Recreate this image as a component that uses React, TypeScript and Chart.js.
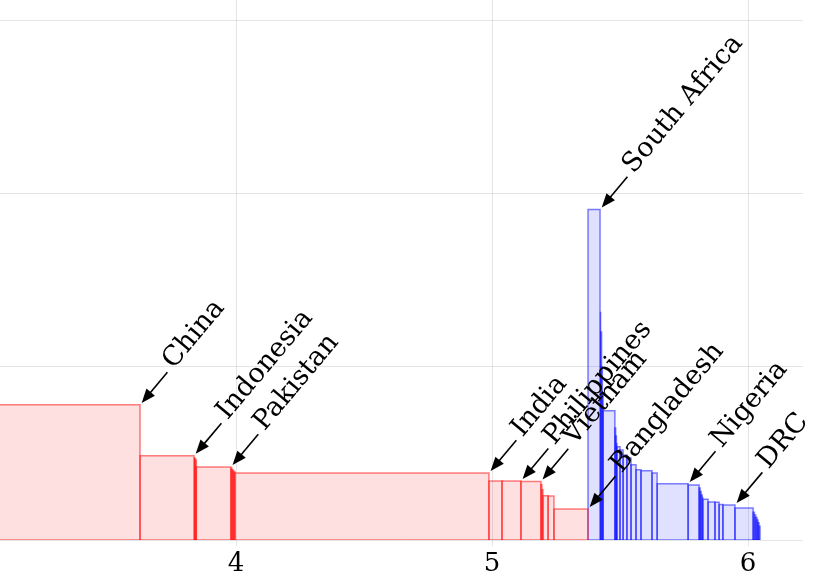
import React, { useEffect, useRef } from 'react';
import { Chart, registerables } from 'chart.js';

Chart.register(...registerables);

// cumulative population (billions) before the first visible red bar
const redStart = 2.362;
const redNames = ['China', 'Indonesia', '', '', '', 'Pakistan', '', '', '', '', 'India', '', 'Philippines', 'Vietnam', '', '', '', '', 'Bangladesh'];
const redPop = [1.263, 0.211, 0.003, 0.003, 0.003, 0.135, 0.004, 0.004, 0.004, 0.004, 0.992, 0.051, 0.074, 0.078, 0.004, 0.004, 0.020, 0.023, 0.133];
const redValue = [0.780, 0.486, 0.478, 0.470, 0.460, 0.422, 0.415, 0.405, 0.398, 0.392, 0.387, 0.341, 0.340, 0.338, 0.320, 0.290, 0.256, 0.254, 0.179];

const blueNames = ['South Africa', '', '', '', '', '', '', '', '', '', '', '', '', '', '', '', '', 'Nigeria', '', '', '', '', '', '', '', '', '', 'DRC', '', '', '', '', '', '', ''];
const bluePop = [0.047, 0.003, 0.003, 0.003, 0.003, 0.046, 0.003, 0.003, 0.002, 0.012, 0.012, 0.015, 0.016, 0.0195, 0.0195, 0.043, 0.020, 0.121, 0.043, 0.004, 0.004, 0.004, 0.003, 0.020, 0.027, 0.016, 0.015, 0.047, 0.071, 0.005, 0.005, 0.005, 0.004, 0.004, 0.004];
const blueValue = [1.908, 1.318, 1.200, 1.000, 0.850, 0.746, 0.647, 0.600, 0.560, 0.538, 0.520, 0.491, 0.474, 0.434, 0.405, 0.400, 0.387, 0.324, 0.318, 0.300, 0.280, 0.260, 0.250, 0.235, 0.220, 0.218, 0.205, 0.202, 0.185, 0.160, 0.145, 0.130, 0.115, 0.100, 0.080];

const xTicks = [4, 5, 6];
const yGrid = [0, 1, 2, 3];

const RED_LINE = 'rgba(255,0,0,0.5)';
const RED_FILL = 'rgba(255,0,0,0.12)';
const BLUE_LINE = 'rgba(0,0,255,0.5)';
const BLUE_FILL = 'rgba(0,0,255,0.12)';
const GRID = 'rgba(0,0,0,0.1)';
const FONT = 'DejaVu Serif';

function buildGroup(start: number, pops: number[], vals: number[], line: string, fill: string) {
  const sets: any[] = [];
  let cum = start;
  for (let i = 0; i < pops.length; i++) {
    const x0 = cum;
    const x1 = cum + pops[i];
    sets.push({
      type: 'line',
      data: [
        { x: x0, y: 0 },
        { x: x0, y: vals[i] },
        { x: x1, y: vals[i] },
        { x: x1, y: 0 },
      ],
      borderColor: line,
      backgroundColor: fill,
      borderWidth: 1.5,
      fill: 'origin',
      pointRadius: 0,
      tension: 0,
      borderJoinStyle: 'miter',
    });
    cum = x1;
  }
  sets.push({
    type: 'line',
    data: [
      { x: start, y: 0 },
      { x: cum, y: 0 },
    ],
    borderColor: line,
    borderWidth: 1.5,
    fill: false,
    pointRadius: 0,
  });
  return { sets, end: cum };
}

const annotatePlugin = {
  id: 'countryArrows',
  afterDatasetsDraw(chart: any) {
    const { ctx } = chart;
    const xs = chart.scales.x;
    const ys = chart.scales.y;
    const ang = (50 * Math.PI) / 180;
    const ux = Math.cos(ang);
    const uy = -Math.sin(ang);
    const vx = Math.sin(ang);
    const vy = Math.cos(ang);
    const blueStart = redStart + redPop.reduce((a, b) => a + b, 0);
    const groups: [number, string[], number[], number[]][] = [
      [redStart, redNames, redPop, redValue],
      [blueStart, blueNames, bluePop, blueValue],
    ];
    ctx.save();
    ctx.fillStyle = '#000';
    ctx.strokeStyle = '#000';
    ctx.lineWidth = 1.6;
    ctx.font = `27px "${FONT}"`;
    ctx.textAlign = 'left';
    ctx.textBaseline = 'alphabetic';
    const L = 40;
    const head = 14;
    const hw = 5.5;
    for (const [start, names, pops, vals] of groups) {
      let cum = start;
      for (let i = 0; i < pops.length; i++) {
        cum += pops[i];
        if (!names[i]) continue;
        const px = xs.getPixelForValue(cum);
        const py = ys.getPixelForValue(vals[i]);
        const tx = px + ux * 2.6;
        const ty = py + uy * 2.6;
        const ex = tx + ux * L;
        const ey = ty + uy * L;
        ctx.beginPath();
        ctx.moveTo(ex, ey);
        ctx.lineTo(tx + ux * (head - 2), ty + uy * (head - 2));
        ctx.stroke();
        const bx = tx + ux * head;
        const by = ty + uy * head;
        ctx.beginPath();
        ctx.moveTo(tx, ty);
        ctx.lineTo(bx + vx * hw, by + vy * hw);
        ctx.lineTo(bx - vx * hw, by - vy * hw);
        ctx.closePath();
        ctx.fill();
        ctx.save();
        ctx.translate(ex + ux * 6 + vx * 3, ey + uy * 6 + vy * 3);
        ctx.rotate(-ang);
        ctx.fillText(names[i], 0, 0);
        ctx.restore();
      }
    }
    ctx.restore();
  },
};

export default function App() {
  const ref = useRef<HTMLCanvasElement>(null);
  useEffect(() => {
    if (!ref.current) return;
    const red = buildGroup(redStart, redPop, redValue, RED_LINE, RED_FILL);
    const blue = buildGroup(red.end, bluePop, blueValue, BLUE_LINE, BLUE_FILL);
    const chart = new Chart(ref.current, {
      type: 'line',
      data: { datasets: [...red.sets, ...blue.sets] },
      options: {
        animation: false,
        responsive: false,
        devicePixelRatio: 1,
        layout: { padding: { left: 0, right: 12, top: 0, bottom: 0 } },
        plugins: { legend: { display: false }, tooltip: { enabled: false } },
        scales: {
          x: {
            type: 'linear',
            min: 3.0781,
            max: 6.2148,
            afterBuildTicks: (s: any) => {
              s.ticks = xTicks.map((v) => ({ value: v }));
            },
            afterFit: (s: any) => {
              s.height = 36;
            },
            ticks: {
              color: '#000',
              font: { family: FONT, size: 26 },
              padding: 3,
              maxRotation: 0,
              autoSkip: false,
            },
            grid: { color: GRID, drawTicks: true, tickLength: 6, tickColor: GRID },
            border: { display: false },
          },
          y: {
            type: 'linear',
            min: 0,
            max: 3.117,
            afterBuildTicks: (s: any) => {
              s.ticks = yGrid.map((v) => ({ value: v }));
            },
            afterFit: (s: any) => {
              s.width = 0;
            },
            ticks: { display: false },
            grid: { color: GRID, drawTicks: false },
            border: { display: false },
          },
        },
      },
      plugins: [annotatePlugin],
    } as any);
    return () => chart.destroy();
  }, []);
  return (
    <div style={{ position: 'fixed', left: 0, top: 0, width: 815, height: 576, background: '#fff' }}>
      <canvas ref={ref} width={815} height={576} />
    </div>
  );
}
